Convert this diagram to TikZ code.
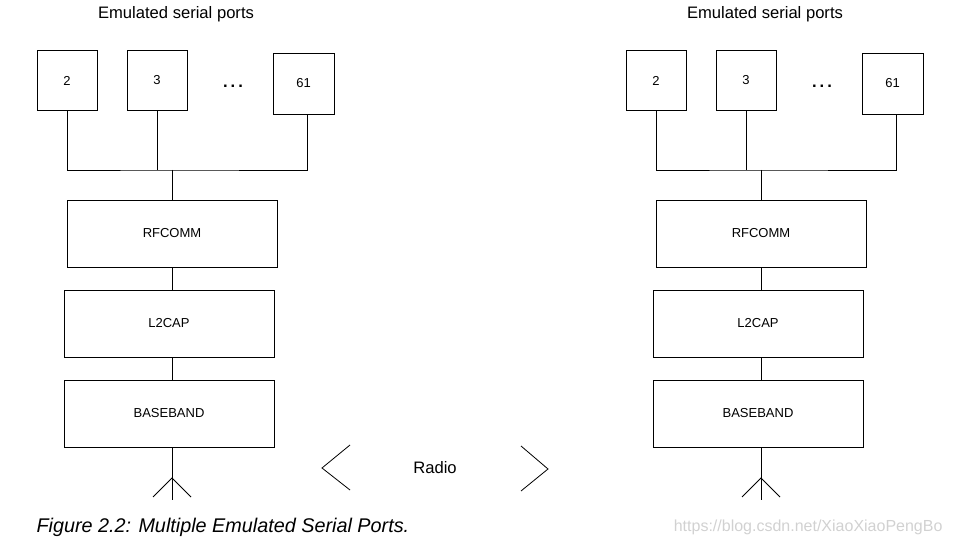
\documentclass[tikz,border=0pt]{standalone}
\usepackage{fontspec}
\setmainfont{Liberation Sans}
\usetikzlibrary{positioning}
\usetikzlibrary{calc}
\tikzstyle{portbox}=[rectangle,draw,line width=0.9pt,minimum width=60pt,minimum height=60pt,inner sep=0pt,font=\fontsize{13}{15}\selectfont]
\tikzstyle{layerbox}=[rectangle,draw,line width=0.9pt,minimum width=210pt,minimum height=67pt,inner sep=0pt,font=\fontsize{13}{15}\selectfont]
\tikzstyle{wire} = [draw,line width=0.9pt]
\tikzstyle{heading} = [font=\fontsize{16.6}{19}\selectfont]

\begin{document}
\begin{tikzpicture}[x=1pt,y=-1pt]
    \useasboundingbox (0,0) rectangle (954,545);

    % two protocol stacks, the second one shifted to the right
    \foreach \s/\ox in {A/0, B/589}
    {
        \node[heading] (\s title) at (176+\ox,14) {Emulated serial ports};

        % emulated ports
        \node[portbox] (\s2) at (67+\ox,80.5) {2};
        \node[portbox] (\s3) at (157+\ox,80.5) {3};
        \node[portbox,minimum size=61pt] (\s61) at (303.5+\ox,83.5) {61};
        \node[heading,font=\fontsize{16.6}{19}\selectfont\bfseries] (\s dots) at (233+\ox,86) {.\hspace{3pt}.\hspace{3pt}.};

        % layers
        \node[layerbox] (\s rf) at (172+\ox,233.5) {RFCOMM};
        \node[layerbox] (\s l2) at (169+\ox,323.5) {L2CAP};
        \node[layerbox] (\s bb) at (169+\ox,413.5) {BASEBAND};

        \coordinate (\s j) at (172+\ox,170);
        \coordinate (\s ant) at (172+\ox,478);
        \coordinate (\s foot) at (172+\ox,500);
        \coordinate (\s armL) at (153+\ox,497);
        \coordinate (\s armR) at (191+\ox,497);

        % connect ports to RFCOMM
        \path[wire] (\s2.south) |- (\s j) -| ([xshift=4pt]\s61.south);
        \path[wire] (\s3.south) -- (\s3.south |- \s j);
        \path[wire] (\s j) -- (\s rf.north -| \s j);
        % connect layers
        \path[wire] (\s rf.south -| \s j) -- (\s l2.north -| \s j);
        \path[wire] (\s l2.south -| \s j) -- (\s bb.north -| \s j);
        % antenna
        \path[wire] (\s bb.south -| \s j) -- (\s foot);
        \path[wire] (\s armL) -- (\s ant) -- (\s armR);
    }

    % radio link
    \node[heading] (radio) at (435,468) {Radio};
    \draw[line width=0.8pt] (350,445) -- (322,468) -- (350,490);
    \draw[line width=0.8pt] (521,446) -- (548,469) -- (521,491);

    \node[anchor=west,font=\fontsize{19.8}{24}\selectfont\itshape] (caption) at (33,527) {Figure 2.2: Multiple Emulated Serial Ports.};
    \node[anchor=east,text=black!18,font=\fontsize{16}{19}\selectfont] (mark) at (946,527) {https://blog.csdn.net/XiaoXiaoPengBo};
\end{tikzpicture}
\end{document}
